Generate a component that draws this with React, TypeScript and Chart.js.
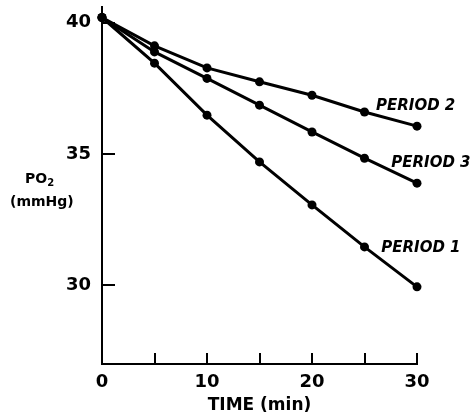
import React, { useEffect, useRef } from 'react';
import { Chart, registerables } from 'chart.js';

Chart.register(...registerables);

// ---- data ----
const timeMin = [0, 5, 10, 15, 20, 25, 30];
const period1 = [40.2, 38.46, 36.48, 34.7, 33.06, 31.46, 29.94];
const period2 = [40.2, 39.12, 38.28, 37.75, 37.24, 36.6, 36.06];
const period3 = [40.2, 38.89, 37.88, 36.86, 35.84, 34.84, 33.89];
const seriesNames = ['PERIOD 1', 'PERIOD 2', 'PERIOD 3'];
const xTickValues = [0, 5, 10, 15, 20, 25, 30];
const xLabelValues = [0, 10, 20, 30];
const yTickValues = [30, 35, 40];
const xTitle = 'TIME (min)';
const yTitleMain = 'PO';
const yTitleSub = '2';
const yTitleUnit = '(mmHg)';

const FONT = "'DejaVu Sans', sans-serif";

// label anchors in data units (x, y) for each series name
const labelAnchors: Record<string, [number, number]> = {
  'PERIOD 1': [26.6, 31.41],
  'PERIOD 2': [26.1, 36.82],
  'PERIOD 3': [27.55, 34.66],
};

const decorPlugin = {
  id: 'decor',
  afterDraw(chart: any) {
    const { ctx, chartArea, scales } = chart;
    const xs = scales.x;
    const ys = scales.y;
    ctx.save();
    ctx.strokeStyle = '#000';
    ctx.lineWidth = 2;
    // inward tick marks
    xTickValues.forEach((v) => {
      const px = Math.round(xs.getPixelForValue(v));
      ctx.beginPath();
      ctx.moveTo(px, chartArea.bottom);
      ctx.lineTo(px, chartArea.bottom - 11);
      ctx.stroke();
    });
    yTickValues.forEach((v) => {
      const py = Math.round(ys.getPixelForValue(v));
      ctx.beginPath();
      ctx.moveTo(chartArea.left, py);
      ctx.lineTo(chartArea.left + 13, py);
      ctx.stroke();
    });
    // y title (horizontal)
    ctx.fillStyle = '#000';
    ctx.textBaseline = 'alphabetic';
    ctx.textAlign = 'left';
    ctx.font = `bold 14px ${FONT}`;
    ctx.fillText(yTitleMain, 25, 183);
    const w = ctx.measureText(yTitleMain).width;
    ctx.font = `bold 10px ${FONT}`;
    ctx.fillText(yTitleSub, 25 + w, 186);
    ctx.font = `bold 14px ${FONT}`;
    ctx.fillText(yTitleUnit, 10, 206);
    // series labels
    ctx.textBaseline = 'middle';
    ctx.font = `italic bold 15px ${FONT}`;
    seriesNames.forEach((name) => {
      const a = labelAnchors[name];
      ctx.fillText(name, xs.getPixelForValue(a[0]), ys.getPixelForValue(a[1]));
    });
    ctx.restore();
  },
};

function makeDataset(label: string, values: number[]) {
  return {
    label,
    data: timeMin.map((t, i) => ({ x: t, y: values[i] })),
    borderColor: '#000',
    backgroundColor: '#000',
    borderWidth: 3,
    pointRadius: 4.5,
    pointBorderWidth: 0,
    pointBackgroundColor: '#000',
    tension: 0,
    clip: false as const,
  };
}

export default function App() {
  const ref = useRef<HTMLCanvasElement>(null);
  useEffect(() => {
    if (!ref.current) return;
    const chart = new Chart(ref.current, {
      type: 'line',
      data: {
        datasets: [
          makeDataset(seriesNames[0], period1),
          makeDataset(seriesNames[1], period2),
          makeDataset(seriesNames[2], period3),
        ],
      },
      options: {
        animation: false,
        responsive: false,
        devicePixelRatio: 1,
        layout: { padding: { left: 0, top: 7, right: 57, bottom: 0 } },
        plugins: { legend: { display: false }, tooltip: { enabled: false } },
        scales: {
          x: {
            type: 'linear',
            min: 0,
            max: 30,
            afterBuildTicks: (s: any) => {
              s.ticks = xTickValues.map((v) => ({ value: v }));
            },
            afterFit: (s: any) => {
              s.height = 50;
              s.paddingLeft = 0;
              s.paddingRight = 0;
            },
            ticks: {
              autoSkip: false,
              maxRotation: 0,
              padding: 0,
              color: '#000',
              font: { family: FONT, size: 18, weight: 'bold' },
              callback: (v: any) => (xLabelValues.includes(Number(v)) ? String(v) : ''),
            },
            grid: { display: false },
            border: { display: true, color: '#000', width: 2 },
            title: {
              display: true,
              text: xTitle,
              color: '#000',
              font: { family: FONT, size: 17, weight: 'bold' },
              padding: { top: 0, bottom: -2 },
            },
          },
          y: {
            type: 'linear',
            min: 27,
            max: 40.6,
            afterBuildTicks: (s: any) => {
              s.ticks = yTickValues.map((v) => ({ value: v }));
            },
            afterFit: (s: any) => {
              s.width = 102;
              s.paddingTop = 0;
              s.paddingBottom = 0;
            },
            ticks: {
              padding: 3,
              color: '#000',
              font: { family: FONT, size: 18, weight: 'bold' },
            },
            grid: { display: false },
            border: { display: true, color: '#000', width: 2 },
          },
        },
      },
      plugins: [decorPlugin],
    });
    return () => chart.destroy();
  }, []);
  return (
    <div style={{ position: 'absolute', left: 0, top: 0, width: 474, height: 414, background: '#fff' }}>
      <canvas ref={ref} width={474} height={414} style={{ display: 'block' }} />
    </div>
  );
}
